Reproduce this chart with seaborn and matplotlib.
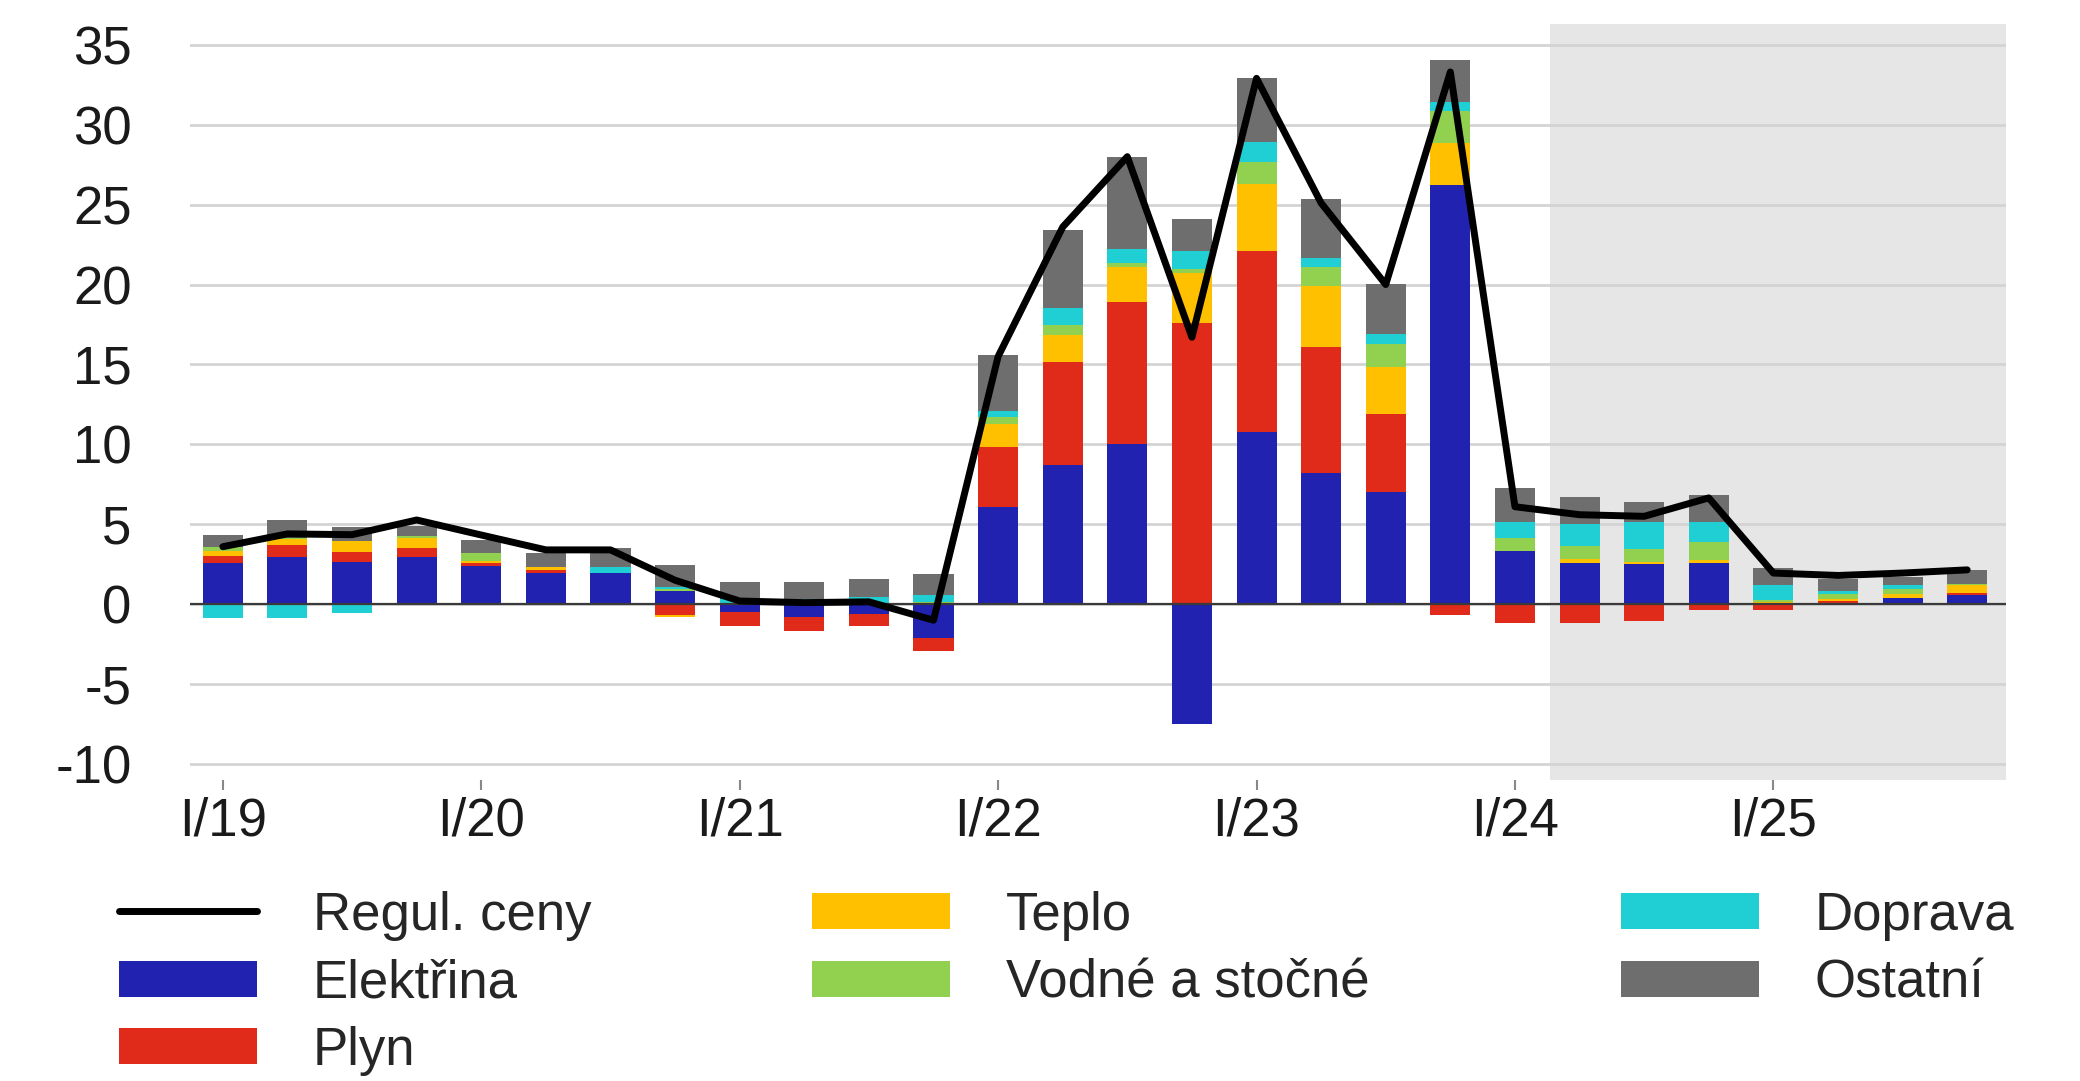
import numpy as np
import matplotlib
matplotlib.use("Agg")
import matplotlib.pyplot as plt
from matplotlib.patches import Patch
from matplotlib.lines import Line2D
import seaborn as sns

# -------------------------------
# data (quarterly, I/19 .. IV/25)
# -------------------------------
quarters = [f"{q}/{y}" for y in range(19, 26) for q in ["I", "II", "III", "IV"]]
tick_labels = ["I/19", "I/20", "I/21", "I/22", "I/23", "I/24", "I/25"]

elektrina = [2.55, 2.98, 2.67, 2.98, 2.42, 1.94, 1.94, 0.8, -0.5, -0.8, -0.6, -2.1,
             6.1, 8.7, 10.0, -7.5, 10.8, 8.2, 7.0, 26.2, 3.3, 2.6, 2.5, 2.6,
             0.0, 0.1, 0.4, 0.6]
plyn = [0.45, 0.73, 0.58, 0.52, 0.15, 0.17, 0.0, -0.67, -0.85, -0.85, -0.75, -0.85,
        3.74, 6.46, 8.93, 17.6, 11.3, 7.9, 4.9, -0.67, -1.19, -1.19, -1.04, -0.35,
        -0.35, 0.1, 0.0, 0.12]
teplo = [0.3, 0.35, 0.7, 0.67, 0.15, 0.2, 0.0, -0.1, 0.0, 0.0, 0.0, 0.0,
         1.46, 1.69, 2.16, 3.1, 4.2, 3.8, 2.96, 2.65, 0.0, 0.2, 0.17, 0.15,
         0.15, 0.15, 0.27, 0.46]
vodne = [0.3, 0.1, 0.0, 0.1, 0.48, 0.0, 0.0, 0.15, 0.1, 0.0, 0.1, 0.15,
         0.42, 0.62, 0.28, 0.28, 1.35, 1.2, 1.45, 2.0, 0.83, 0.85, 0.8, 1.15,
         0.12, 0.3, 0.31, 0.1]
doprava = [-0.85, -0.87, -0.56, 0.0, 0.0, 0.0, 0.42, 0.15, 0.25, 0.3, 0.35, 0.4,
           0.37, 1.07, 0.84, 1.12, 1.25, 0.58, 0.6, 0.6, 1.04, 1.35, 1.7, 1.25,
           0.94, 0.15, 0.2, 0.0]
ostatni = [0.7, 1.1, 0.9, 0.6, 0.83, 0.87, 1.15, 1.35, 1.05, 1.1, 1.15, 1.35,
           3.48, 4.89, 5.76, 1.97, 4.05, 3.69, 3.13, 2.6, 2.08, 1.7, 1.2, 1.71,
           1.04, 0.8, 0.52, 0.85]
regul_ceny = [3.6, 4.4, 4.35, 5.27, 4.33, 3.4, 3.4, 1.5, 0.2, 0.1, 0.15, -1.0,
              15.5, 23.6, 28.0, 16.7, 32.9, 25.1, 20.0, 33.3, 6.1, 5.6, 5.5, 6.65,
              1.95, 1.8, 1.95, 2.15]

series_names = ["Elektřina", "Plyn", "Teplo", "Vodné a stočné", "Doprava", "Ostatní"]
series_values = [elektrina, plyn, teplo, vodne, doprava, ostatni]
series_colors = ["#2222B0", "#E02A1A", "#FFC000", "#92D050", "#1FCFD4", "#6E6E6E"]

# -------------------------------
# style
# -------------------------------
sns.set_theme(style="whitegrid")
plt.rcParams["font.family"] = ["Liberation Sans", "DejaVu Sans"]
plt.rcParams["axes.unicode_minus"] = False
FS = 38

fig = plt.figure(figsize=(20.8, 10.81), dpi=100)
ax = fig.add_axes([0.0913, 0.2784, 0.8731, 0.6994])

x = np.arange(len(quarters))

# forecast shading
ax.axvspan(20.55, 27.6, color="#E6E6E6", zorder=0, lw=0)

# stacked bars, positives up and negatives down
pos_base = np.zeros(len(x))
neg_base = np.zeros(len(x))
for name, vals, col in zip(series_names, series_values, series_colors):
    v = np.array(vals, dtype=float)
    bottom = np.where(v >= 0, pos_base, neg_base)
    sns.barplot(x=x, y=v, bottom=bottom, color=col, saturation=1, width=0.62,
                errorbar=None, linewidth=0, ax=ax, zorder=2)
    pos_base = pos_base + np.where(v >= 0, v, 0)
    neg_base = neg_base + np.where(v < 0, v, 0)

ax.axhline(0, color="#3A3A3A", lw=1.6, zorder=3)

sns.lineplot(x=x, y=regul_ceny, color="black", lw=5, ax=ax, zorder=4)

# axes
ax.set_xlim(-0.51, 27.6)
ax.set_ylim(-11.0, 36.3)
ax.set_yticks(np.arange(-10, 36, 5))
ax.set_xticks(np.arange(0, 28, 4))
ax.set_xticklabels(tick_labels)
ax.set_xlabel("")
ax.set_ylabel("")
ax.grid(axis="y", color="#D4D4D4", lw=2)
ax.grid(axis="x", visible=False)
ax.set_axisbelow(True)
ax.set_facecolor("white")
for s in ax.spines.values():
    s.set_visible(False)
ax.tick_params(axis="y", length=0, pad=42, labelsize=FS, colors="#1A1A1A")
ax.tick_params(axis="x", length=7, width=1.5, color="#888888", direction="out",
               pad=5, labelsize=FS, labelcolor="#1A1A1A", bottom=True)

# legend (three columns placed separately)
leg_kw = dict(frameon=False, fontsize=FS, handlelength=2.62, handleheight=0.68,
              handletextpad=1.05, labelspacing=0.33, borderpad=0, borderaxespad=0,
              loc="upper left")
h_line = Line2D([0], [0], color="black", lw=5)
h_patch = [Patch(facecolor=c, edgecolor="none") for c in series_colors]

fig.legend([h_line, h_patch[0], h_patch[1]], ["Regul. ceny", series_names[0], series_names[1]],
           bbox_to_anchor=(0.0572, 0.176), **leg_kw)
fig.legend([h_patch[2], h_patch[3]], [series_names[2], series_names[3]],
           bbox_to_anchor=(0.3904, 0.176), **leg_kw)
fig.legend([h_patch[4], h_patch[5]], [series_names[4], series_names[5]],
           bbox_to_anchor=(0.7793, 0.176), **leg_kw)

fig.savefig("out.png", dpi=100)
